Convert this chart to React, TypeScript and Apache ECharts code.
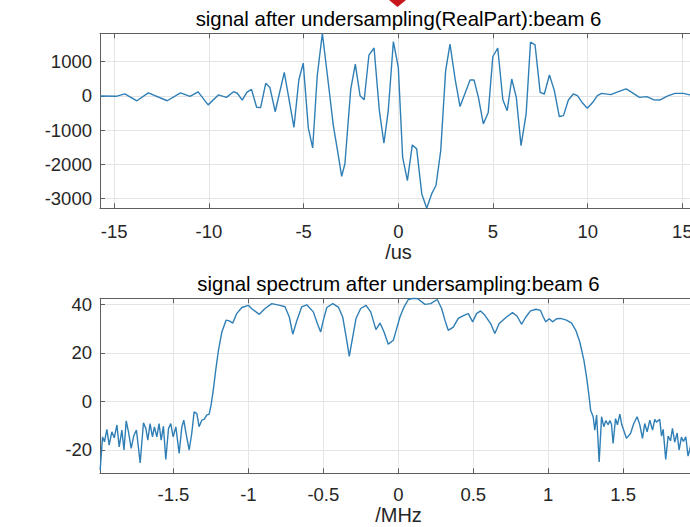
import React, { useEffect, useRef } from "react";
import * as echarts from "echarts";

// ---------- data ----------
const TIME_US = [
  -15.75, -14.9, -14.44, -13.8, -13.2, -12.2, -11.5, -11.0, -10.57, -10.04,
  -9.5, -9.07, -8.7, -8.5, -8.24, -8.0, -7.75, -7.48, -7.27, -7.0,
  -6.78, -6.5, -6.02, -5.51, -5.25, -5.02, -4.75, -4.52, -4.28, -4.01,
  -3.73, -3.43, -3.22, -2.99, -2.82, -2.51, -2.27, -2.02, -1.8, -1.55,
  -1.28, -1.0, -0.76, -0.53, -0.26, 0, 0.23, 0.48, 0.74, 0.97,
  1.24, 1.5, 1.76, 1.99, 2.24, 2.5, 2.73, 3.0, 3.26, 3.52,
  3.79, 4.0, 4.23, 4.49, 4.75, 4.99, 5.25, 5.52, 5.75, 5.99,
  6.23, 6.48, 6.75, 6.98, 7.22, 7.49, 7.71, 7.98, 8.24, 8.5,
  8.72, 8.98, 9.24, 9.46, 9.74, 9.98, 10.27, 10.51, 10.74, 11.22,
  11.62, 12.03, 12.33, 12.73, 13.12, 13.47, 13.82, 14.26, 14.62, 15.06,
  15.4, 15.75,
];
const REAL_PART = [
  0, -10, 60, -140, 90, -140, 90, -10, 120, -260,
  30, -40, 125, 80, -120, 105, 190, -330, -340, 370,
  250, -460, 690, -915, 475, 960, -940, -1515, 590, 1830,
  540, -865, -1560, -2350, -1980, 200, 930, 10, -110, 1195,
  1400, -430, -1380, -430, 1590, 835, -1790, -2470, -1430, -1545,
  -2860, -3280, -2860, -2615, -1595, 740, 1515, 495, -310, 75,
  465, 465, -40, -815, -480, 1145, 1400, -110, -430, 495,
  -40, -1450, -525, 1570, 1495, 105, 58, 612, 155, -600,
  -575, -117, 58, 10, -215, -360, -185, 10, 75, 40,
  125, 205, 105, -40, -20, -110, -117, 10, 75, 75,
  30, 0,
];

const FREQ_MHZ = [
  -1.989, -1.973, -1.96, -1.944, -1.929, -1.911, -1.895, -1.877, -1.862, -1.844,
  -1.83, -1.815, -1.8, -1.782, -1.764, -1.747, -1.722, -1.7, -1.684, -1.671,
  -1.656, -1.64, -1.627, -1.611, -1.596, -1.582, -1.567, -1.551, -1.533, -1.518,
  -1.502, -1.484, -1.462, -1.444, -1.431, -1.418, -1.395, -1.378, -1.362, -1.344,
  -1.329, -1.311, -1.295, -1.278, -1.262, -1.249, -1.233, -1.218, -1.2, -1.177,
  -1.149, -1.127, -1.104, -1.078, -1.044, -1.0, -0.98, -0.927, -0.889, -0.844,
  -0.789, -0.756, -0.727, -0.704, -0.676, -0.644, -0.611, -0.567, -0.54, -0.518,
  -0.5, -0.477, -0.437, -0.4, -0.371, -0.344, -0.327, -0.304, -0.282, -0.251,
  -0.215, -0.184, -0.149, -0.122, -0.095, -0.067, -0.033, -0.011, 0.011, 0.038,
  0.067, 0.1, 0.13, 0.178, 0.216, 0.26, 0.289, 0.311, 0.333, 0.367,
  0.4, 0.438, 0.467, 0.496, 0.522, 0.549, 0.578, 0.616, 0.644, 0.673,
  0.722, 0.762, 0.793, 0.822, 0.851, 0.882, 0.918, 0.949, 0.967, 0.984,
  1.007, 1.029, 1.056, 1.082, 1.122, 1.156, 1.184, 1.211, 1.238, 1.256,
  1.273, 1.283, 1.3, 1.311, 1.323, 1.34, 1.356, 1.371, 1.384, 1.4,
  1.411, 1.422, 1.433, 1.449, 1.462, 1.478, 1.491, 1.522, 1.549, 1.571,
  1.593, 1.611, 1.629, 1.644, 1.66, 1.678, 1.696, 1.711, 1.722, 1.744,
  1.756, 1.767, 1.784, 1.8, 1.816, 1.829, 1.844, 1.86, 1.873, 1.889,
  1.902, 1.918, 1.933, 1.944, 1.96, 1.975, 1.99,
];
const SPECTRUM_DB = [
  -28.3, -14.6, -16.6, -11.5, -18, -12.5, -15, -9.7, -18.7, -11.8,
  -20, -8, -12.5, -19.3, -14, -11.8, -25.3, -8.8, -11.2, -15.9,
  -9.1, -14.6, -10.5, -14.6, -9.1, -15.9, -10.2, -23.9, -11.2, -9.1,
  -14.6, -10.5, -21.4, -10.5, -7.7, -12.5, -20, -13.2, -4.3, -5,
  -10.4, -7.7, -7.4, -5.6, -5.2, -1.5, 5.3, 12.9, 21, 28.6,
  33.5, 33.2, 32.3, 36.2, 38.7, 39.6, 38.3, 35.9, 38.3, 40.3,
  39.6, 39, 34.8, 27.7, 33.5, 39, 39.8, 36.9, 32.1, 28.6,
  33.5, 38.7, 40.3, 38.9, 34.8, 25.2, 18.6, 26.6, 34.2, 38.3,
  39.6, 36.9, 29.6, 32.3, 28.6, 23.6, 25.2, 30, 34.8, 38.9,
  42, 42.5, 42.3, 40, 40.3, 42, 38.3, 33.5, 29.3, 30.6,
  34.2, 35.5, 36.2, 32.8, 36.2, 37.3, 35.5, 32.1, 28, 32.1,
  34.8, 36.6, 35.1, 31.8, 34.8, 37.3, 38, 37.5, 34.8, 32.8,
  34.1, 32.8, 34.1, 34.2, 33.5, 32.3, 29.3, 24.5, 17, 10,
  1.9, -3.6, -6.3, -11.8, -5.6, -24.9, -6.3, -10.4, -7.9, -9.6,
  -7.9, -9.3, -17.3, -7.1, -9.6, -5.2, -9.6, -15.2, -13.2, -9.1,
  -6.3, -9.6, -15.2, -9.1, -12.5, -7.7, -11.8, -7.4, -8.5, -7.4,
  -14.3, -11.5, -23.9, -14.3, -16.2, -11.1, -16.8, -13, -20, -14.7,
  -16.5, -14.6, -22.5, -20, -15, -18, -16,
];

const TOP_X_RANGE = [-15.75, 15.75];
const TOP_Y_RANGE = [-3280, 1830];
const BOTTOM_X_RANGE = [-1.99, 1.99];
const BOTTOM_Y_RANGE = [-29.6, 42.5];

const TOP_TITLE = "signal after undersampling(RealPart):beam 6";
const BOTTOM_TITLE = "signal spectrum after undersampling:beam 6";
const TOP_X_NAME = "/us";
const BOTTOM_X_NAME = "/MHz";

// ---------- styles ----------
const FONT = "'Liberation Sans', Arial, Helvetica, sans-serif";
const LINE_COLOR = "#2f7fb6";
const AXIS_COLOR = "#5e5e5e";
const GRID_COLOR = "#e4e4e4";
const LABEL_COLOR = "#262626";
const TICK_FONT = 18.5;
const TITLE_FONT = 20.4;
const NAME_FONT = 20;

const stepFormatter = (step: number) => (v: number) => {
  const k = v / step;
  if (Math.abs(k - Math.round(k)) > 1e-6) return "";
  return String(Math.round(k) * step);
};

function makeXAxis(gridIndex: number, range: number[], splitNumber: number, step: number, margin: number) {
  return [
    {
      type: "value",
      gridIndex,
      min: range[0],
      max: range[1],
      splitNumber,
      position: "bottom",
      axisLine: { show: true, onZero: false, lineStyle: { color: AXIS_COLOR, width: 1 } },
      axisTick: { show: true, inside: true, length: 5, lineStyle: { color: AXIS_COLOR } },
      axisLabel: {
        show: true,
        margin,
        fontSize: TICK_FONT,
        fontFamily: FONT,
        color: LABEL_COLOR,
        formatter: stepFormatter(step),
      },
      splitLine: { show: true, lineStyle: { color: GRID_COLOR, width: 1 } },
    },
    {
      type: "value",
      gridIndex,
      min: range[0],
      max: range[1],
      splitNumber,
      position: "top",
      axisLine: { show: true, onZero: false, lineStyle: { color: AXIS_COLOR, width: 1 } },
      axisTick: { show: true, inside: true, length: 5, lineStyle: { color: AXIS_COLOR } },
      axisLabel: { show: false },
      splitLine: { show: false },
    },
  ];
}

function makeYAxis(gridIndex: number, range: number[], splitNumber: number, step: number) {
  return {
    type: "value",
    gridIndex,
    min: range[0],
    max: range[1],
    splitNumber,
    position: "left",
    axisLine: { show: true, onZero: false, lineStyle: { color: AXIS_COLOR, width: 1 } },
    axisTick: { show: true, inside: true, length: 5, lineStyle: { color: AXIS_COLOR } },
    axisLabel: {
      show: true,
      margin: 8,
      fontSize: TICK_FONT,
      fontFamily: FONT,
      color: LABEL_COLOR,
      formatter: stepFormatter(step),
    },
    splitLine: { show: true, lineStyle: { color: GRID_COLOR, width: 1 } },
  };
}

function centeredText(text: string, x: number, y: number, fontSize: number, fill: string) {
  return {
    type: "text",
    x,
    y,
    style: {
      text,
      fontSize,
      fontFamily: FONT,
      fill,
      textAlign: "center",
      textVerticalAlign: "middle",
    },
  };
}

export default function App() {
  const ref = useRef<HTMLDivElement>(null);

  useEffect(() => {
    if (!ref.current) return;
    const chart = echarts.init(ref.current, undefined, { renderer: "svg" });

    const topData = TIME_US.map((t, i) => [t, REAL_PART[i]]);
    const bottomData = FREQ_MHZ.map((f, i) => [f, SPECTRUM_DB[i]]);

    chart.setOption({
      animation: false,
      backgroundColor: "#ffffff",
      grid: [
        { left: 100, top: 33.3, width: 596.6, height: 175, containLabel: false, outerBoundsMode: "none" },
        { left: 100, top: 298.3, width: 596.6, height: 175, containLabel: false, outerBoundsMode: "none" },
      ],
      xAxis: [
        ...makeXAxis(0, TOP_X_RANGE, 6, 5, 13.5),
        ...makeXAxis(1, BOTTOM_X_RANGE, 8, 0.5, 12),
      ],
      yAxis: [
        makeYAxis(0, TOP_Y_RANGE, 5, 1000),
        makeYAxis(1, BOTTOM_Y_RANGE, 4, 20),
      ],
      series: [
        {
          type: "line",
          xAxisIndex: 0,
          yAxisIndex: 0,
          data: topData,
          showSymbol: false,
          symbol: "none",
          lineStyle: { color: LINE_COLOR, width: 1.4 },
          itemStyle: { color: LINE_COLOR },
          clip: true,
        },
        {
          type: "line",
          xAxisIndex: 2,
          yAxisIndex: 1,
          data: bottomData,
          showSymbol: false,
          symbol: "none",
          lineStyle: { color: LINE_COLOR, width: 1.4 },
          itemStyle: { color: LINE_COLOR },
          clip: true,
        },
      ],
      graphic: [
        centeredText(TOP_TITLE, 398.5, 18.9, TITLE_FONT, "#000000"),
        centeredText(BOTTOM_TITLE, 398.5, 283.9, TITLE_FONT, "#000000"),
        centeredText(TOP_X_NAME, 398.5, 252, NAME_FONT, LABEL_COLOR),
        centeredText(BOTTOM_X_NAME, 398.5, 515.4, NAME_FONT, LABEL_COLOR),
        {
          type: "polygon",
          shape: { points: [[389, 0], [406, 0], [397.5, 7]] },
          style: { fill: "#c8161d" },
        },
      ],
    });

    return () => chart.dispose();
  }, []);

  return (
    <div
      ref={ref}
      style={{ position: "fixed", left: 0, top: 0, width: 690, height: 527, background: "#fff" }}
    />
  );
}
